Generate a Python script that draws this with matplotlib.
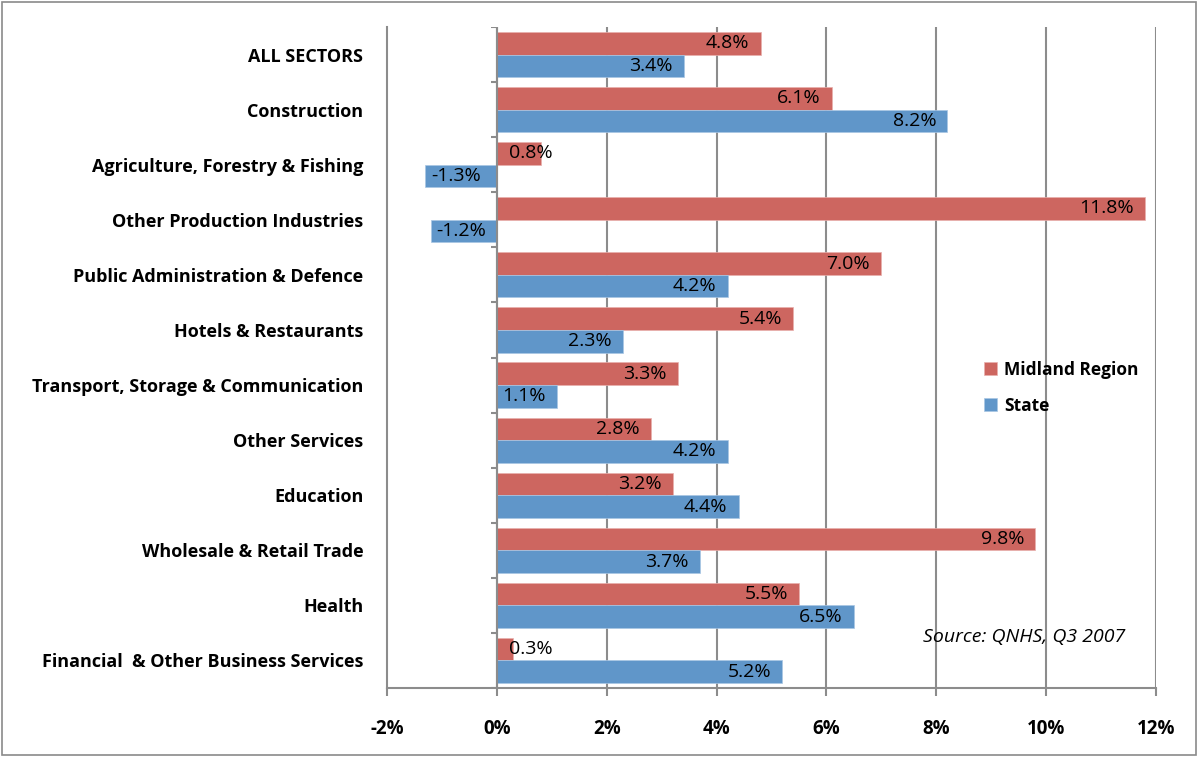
import matplotlib.pyplot as plt
from matplotlib.patches import Rectangle

SECTORS = [
    "ALL SECTORS",
    "Construction",
    "Agriculture, Forestry & Fishing",
    "Other Production Industries",
    "Public Administration & Defence",
    "Hotels & Restaurants",
    "Transport, Storage & Communication",
    "Other Services",
    "Education",
    "Wholesale & Retail Trade",
    "Health",
    "Financial  & Other Business Services",
]
MIDLAND = [4.8, 6.1, 0.8, 11.8, 7.0, 5.4, 3.3, 2.8, 3.2, 9.8, 5.5, 0.3]
STATE = [3.4, 8.2, -1.3, -1.2, 4.2, 2.3, 1.1, 4.2, 4.4, 3.7, 6.5, 5.2]
XTICKS = [-2, 0, 2, 4, 6, 8, 10, 12]

RED = "#cd6660"
BLUE = "#6096c9"
GRID = "#8c8c8c"
FONT = "Open Sans"
FS_CAT = 13
FS_VAL = 14
FS_TICK = 13.5
FS_LEG = 12.5
FS_SRC = 14

plt.rcParams["font.family"] = [FONT, "DejaVu Sans"]

W, H = 1198, 757
fig = plt.figure(figsize=(W / 100, H / 100), dpi=100)
ax = fig.add_axes([387 / W, 1 - 688 / H, (1156 - 387) / W, (688 - 27) / H])

bar_h = 0.41
ys = list(range(len(SECTORS)))
ax.barh([y - bar_h / 2 for y in ys], MIDLAND, height=bar_h, color=RED,
        edgecolor="#e8b0ad", linewidth=0.5, label="Midland Region", zorder=3)
ax.barh([y + bar_h / 2 for y in ys], STATE, height=bar_h, color=BLUE,
        edgecolor="#a9c6e4", linewidth=0.5, label="State", zorder=3)


def put_label(val, y):
    txt = f"{val:.1f}%"
    kw = dict(va="center", fontsize=FS_VAL, color="black", zorder=4)
    if val < 0:
        ax.annotate(txt, (val, y), xytext=(4, 0), textcoords="offset points",
                    ha="left", **kw)
    elif val < 1.0:
        ax.annotate(txt, (0, y), xytext=(9, 0), textcoords="offset points",
                    ha="left", **kw)
    else:
        ax.annotate(txt, (val, y), xytext=(-8, 0), textcoords="offset points",
                    ha="right", **kw)


for y, m, s in zip(ys, MIDLAND, STATE):
    put_label(m, y - bar_h / 2)
    put_label(s, y + bar_h / 2)

ax.set_xlim(XTICKS[0], XTICKS[-1])
ax.set_ylim(len(SECTORS) - 0.5, -0.5)

# vertical gridlines and the zero axis with category ticks
for x in XTICKS[1:]:
    ax.axvline(x, color=GRID, linewidth=1.5, zorder=1)
ax.axvline(0, color=GRID, linewidth=1.5, zorder=5)
bounds = [b - 0.5 for b in range(len(SECTORS) + 1)]
ax.hlines(bounds, -0.11, 0, color=GRID, linewidth=1.5, zorder=5)

ax.set_xticks(XTICKS)
ax.set_xticklabels([f"{x}%" for x in XTICKS], fontweight="bold",
                   fontsize=FS_TICK)
ax.tick_params(axis="x", length=6, width=1.5, color=GRID, pad=16)
ax.set_yticks(ys)
ax.set_yticklabels(SECTORS, fontweight="bold", fontsize=FS_CAT)
ax.tick_params(axis="y", length=0, pad=17)

for side in ("top", "right"):
    ax.spines[side].set_visible(False)
for side in ("left", "bottom"):
    ax.spines[side].set_color(GRID)
    ax.spines[side].set_linewidth(1.5)

leg = ax.legend(loc="upper left", bbox_to_anchor=(968 / W, 1 - 345 / H),
                bbox_transform=fig.transFigure, frameon=False,
                prop={"family": FONT, "weight": "bold", "size": FS_LEG},
                handlelength=0.75, handleheight=0.75, labelspacing=1.05,
                handletextpad=0.45)

fig.text(923 / W, 1 - 637 / H, "Source: QNHS, Q3 2007", fontsize=FS_SRC,
         style="italic", va="center", ha="left")

fig.patches.append(Rectangle((2 / W, 2 / H), 1 - 4 / W, 1 - 4 / H,
                             transform=fig.transFigure, fill=False,
                             edgecolor="#8a8a8a", linewidth=1.2))

fig.savefig("out.png", dpi=100)
